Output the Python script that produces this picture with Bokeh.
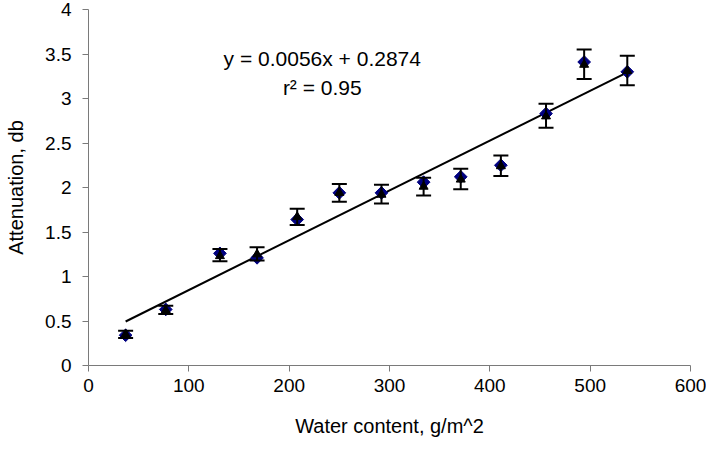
import numpy as np
from bokeh.plotting import figure
from bokeh.models import Range1d, ColumnDataSource, Whisker, TeeHead, Label, FixedTicker
from bokeh.embed import file_html
from bokeh.resources import INLINE

# ---- data ----
water = [37, 77, 131, 168, 208, 250, 292, 334, 371, 411, 456, 494, 537]
atten = [0.34, 0.63, 1.26, 1.21, 1.64, 1.94, 1.94, 2.06, 2.12, 2.25, 2.83, 3.41, 3.30]
atten_mean = [0.35, 0.62, 1.23, 1.25, 1.67, 1.94, 1.92, 2.01, 2.09, 2.24, 2.80, 3.38, 3.31]
err_low = [0.31, 0.58, 1.17, 1.18, 1.58, 1.84, 1.82, 1.91, 1.98, 2.13, 2.67, 3.22, 3.15]
err_high = [0.39, 0.67, 1.31, 1.33, 1.76, 2.04, 2.03, 2.11, 2.21, 2.36, 2.94, 3.55, 3.48]
slope = 0.0056
intercept = 0.2874
r2 = 0.95
x_ticks = [0, 100, 200, 300, 400, 500, 600]
y_ticks = [0, 0.5, 1, 1.5, 2, 2.5, 3, 3.5, 4]

FONT = "Liberation Sans"

p = figure(width=706, height=446, output_backend="svg", toolbar_location=None,
           x_range=Range1d(0, 600), y_range=Range1d(0, 4),
           min_border_left=88, min_border_right=16, min_border_top=9, min_border_bottom=81)
p.outline_line_color = None
p.grid.visible = False
p.background_fill_color = "white"
p.border_fill_color = "white"

for ax in (p.xaxis[0], p.yaxis[0]):
    ax.axis_line_color = "#7a7a7a"
    ax.major_tick_line_color = "#7a7a7a"
    ax.minor_tick_line_color = None
    ax.major_tick_in = 0
    ax.major_tick_out = 6
    ax.major_label_text_font = FONT
    ax.major_label_text_font_size = "19px"
    ax.major_label_text_color = "black"
    ax.axis_label_text_font = FONT
    ax.axis_label_text_font_size = "20px"
    ax.axis_label_text_font_style = "normal"
    ax.axis_label_text_color = "black"

p.xaxis.ticker = FixedTicker(ticks=x_ticks)
p.yaxis.ticker = FixedTicker(ticks=y_ticks)
p.xaxis.major_label_standoff = 7
p.yaxis.major_label_standoff = 11
p.xaxis.axis_label = "Water content, g/m^2"
p.yaxis.axis_label = "Attenuation, db"
p.xaxis.axis_label_standoff = 20
p.yaxis.axis_label_standoff = 15

# trend line
tx = np.array([min(water), max(water)], dtype=float)
p.line(tx, slope * tx + intercept, line_color="black", line_width=2)

src = ColumnDataSource(dict(x=water, y=atten, ym=atten_mean, lo=err_low, hi=err_high))

p.scatter("x", "y", source=src, marker="square", angle=np.pi / 4, size=9,
          fill_color="#000080", line_color="#000080")

w = Whisker(source=src, base="x", lower="lo", upper="hi",
            line_color="black", line_width=2, level="glyph",
            upper_head=TeeHead(size=15, line_color="black", line_width=2),
            lower_head=TeeHead(size=15, line_color="black", line_width=2))
p.add_layout(w)

p.scatter("x", "ym", source=src, marker="triangle", size=9,
          fill_color="black", line_color="black")

eq_text = "y = %.4fx + %.4f" % (slope, intercept)
r2_text = "r\u00b2 = %.2f" % r2
p.add_layout(Label(x=233, y=3.45, text=eq_text, text_align="center", text_baseline="middle",
                   text_font=FONT, text_font_size="21px", text_color="black"))
p.add_layout(Label(x=233, y=3.12, text=r2_text, text_align="center", text_baseline="middle",
                   text_font=FONT, text_font_size="21px", text_color="black"))

open("out.html", "w").write(file_html(p, INLINE))
